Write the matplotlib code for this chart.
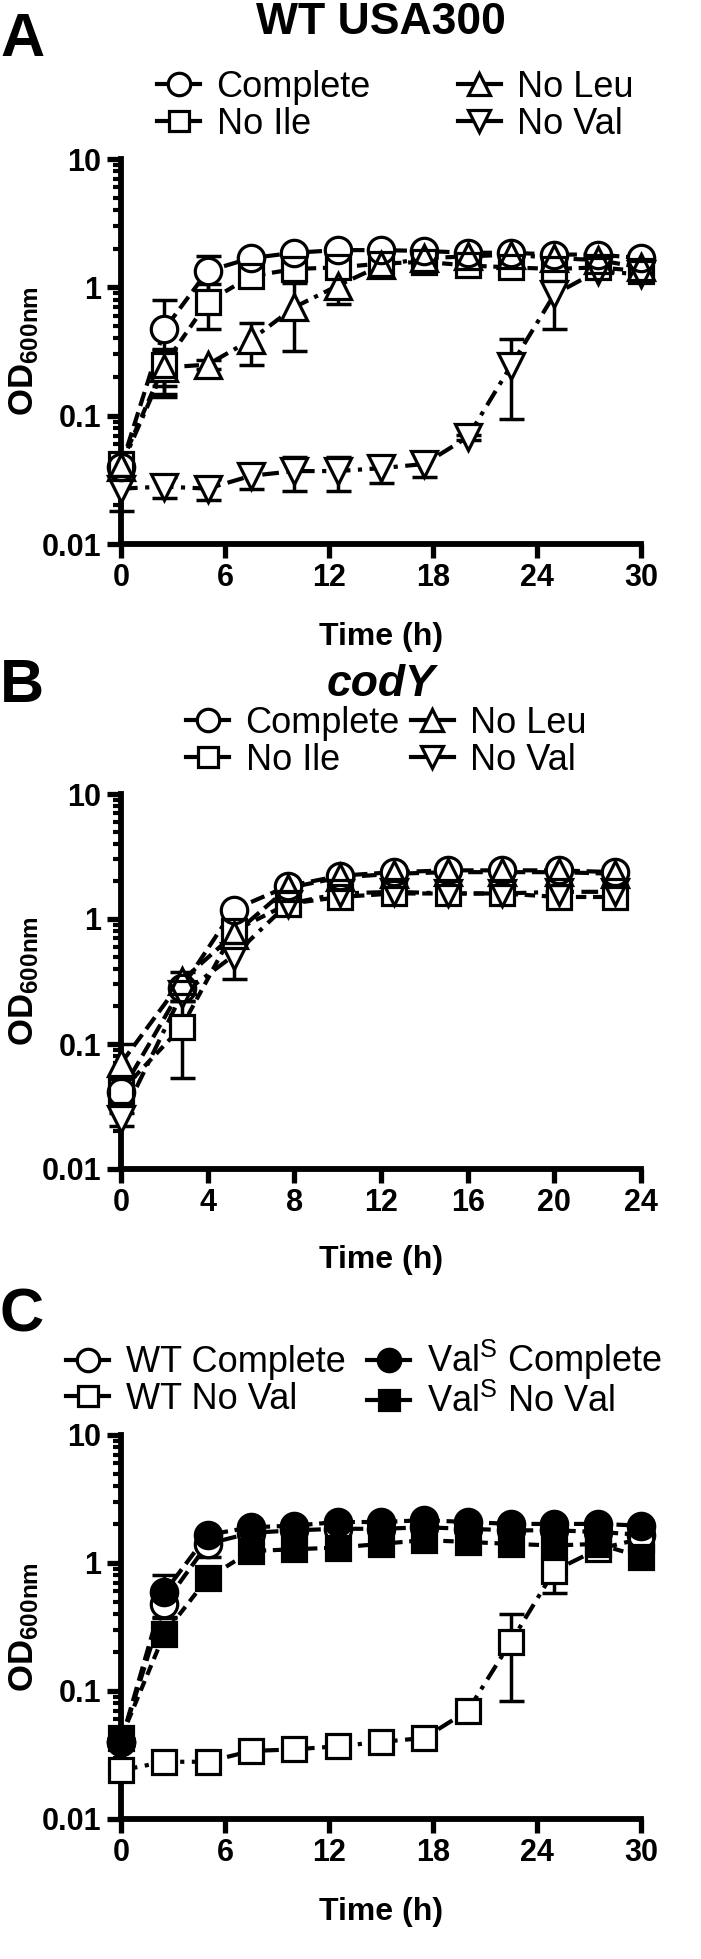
import matplotlib
matplotlib.use('Agg')
import matplotlib.pyplot as plt
from matplotlib.lines import Line2D
from matplotlib.ticker import LogLocator, NullFormatter

plt.rcParams['font.family'] = ['Liberation Sans', 'DejaVu Sans']
plt.rcParams['mathtext.fontset'] = 'custom'
plt.rcParams['mathtext.rm'] = 'Liberation Sans'
plt.rcParams['mathtext.bf'] = 'Liberation Sans:bold'
plt.rcParams['mathtext.it'] = 'Liberation Sans:italic'

# ---------------- data ----------------
tA = [0, 2.5, 5, 7.5, 10, 12.5, 15, 17.5, 20, 22.5, 25, 27.5, 30]
A_complete = [0.040, 0.47, 1.34, 1.69, 1.86, 1.95, 1.95, 1.92, 1.86, 1.86, 1.80, 1.80, 1.69]
A_complete_sd = [0.004, 0.33, 0.40, 0.10, 0.10, 0.10, 0.08, 0.08, 0.08, 0.08, 0.08, 0.08, 0.08]
A_noile = [0.042, 0.25, 0.77, 1.22, 1.39, 1.43, 1.53, 1.58, 1.48, 1.43, 1.39, 1.43, 1.34]
A_noile_sd = [0.004, 0.08, 0.30, 0.10, 0.10, 0.10, 0.08, 0.08, 0.08, 0.08, 0.08, 0.08, 0.08]
A_noleu = [0.040, 0.237, 0.25, 0.39, 0.70, 1.03, 1.48, 1.69, 1.74, 1.80, 1.69, 1.63, 1.43]
A_noleu_sd = [0.004, 0.09, 0.02, 0.14, 0.38, 0.29, 0.10, 0.08, 0.08, 0.08, 0.08, 0.08, 0.08]
A_noval = [0.027, 0.028, 0.027, 0.034, 0.037, 0.037, 0.039, 0.042, 0.068, 0.245, 0.88, 1.34, 1.26]
A_noval_sd = [0.009, 0.005, 0.005, 0.007, 0.011, 0.011, 0.009, 0.009, 0.003, 0.15, 0.41, 0.10, 0.10]

tB = [0, 2.8, 5.2, 7.7, 10.1, 12.6, 15.1, 17.6, 20.2, 22.8]
B_complete = [0.041, 0.28, 1.19, 1.83, 2.22, 2.37, 2.45, 2.45, 2.45, 2.37]
B_complete_sd = [0.004, 0.03, 0.05, 0.05, 0.05, 0.05, 0.05, 0.05, 0.05, 0.05]
B_noile = [0.042, 0.137, 0.80, 1.32, 1.50, 1.60, 1.60, 1.60, 1.50, 1.50]
B_noile_sd = [0.004, 0.084, 0.05, 0.05, 0.05, 0.05, 0.05, 0.05, 0.05, 0.05]
B_noleu = [0.070, 0.32, 0.75, 1.77, 2.15, 2.30, 2.37, 2.37, 2.37, 2.30]
B_noleu_sd = [0.030, 0.06, 0.05, 0.05, 0.05, 0.05, 0.05, 0.05, 0.05, 0.05]
B_noval = [0.025, 0.25, 0.51, 1.32, 1.60, 1.65, 1.60, 1.60, 1.65, 1.65]
B_noval_sd = [0.003, 0.03, 0.18, 0.05, 0.05, 0.05, 0.05, 0.05, 0.05, 0.05]

tC = [0, 2.5, 5, 7.5, 10, 12.5, 15, 17.5, 20, 22.5, 25, 27.5, 30]
C_wt_complete = [0.040, 0.48, 1.41, 1.72, 1.80, 1.85, 1.85, 1.90, 1.85, 1.80, 1.80, 1.75, 1.66]
C_wt_complete_sd = [0.004, 0.10, 0.30, 0.05, 0.05, 0.05, 0.05, 0.05, 0.05, 0.05, 0.05, 0.05, 0.05]
C_wt_noval = [0.024, 0.028, 0.028, 0.034, 0.035, 0.037, 0.040, 0.043, 0.070, 0.243, 0.87, 1.28, 1.55]
C_wt_noval_sd = [0.002, 0.002, 0.002, 0.002, 0.002, 0.002, 0.002, 0.002, 0.004, 0.16, 0.29, 0.05, 0.05]
C_vals_complete = [0.040, 0.59, 1.66, 1.90, 1.96, 2.09, 2.09, 2.16, 2.09, 2.02, 2.02, 2.02, 1.96]
C_vals_complete_sd = [0.004, 0.22, 0.10, 0.05, 0.05, 0.05, 0.05, 0.05, 0.05, 0.05, 0.05, 0.05, 0.05]
C_vals_noval = [0.043, 0.28, 0.76, 1.24, 1.28, 1.32, 1.41, 1.51, 1.46, 1.41, 1.37, 1.41, 1.12]
C_vals_noval_sd = [0.004, 0.03, 0.05, 0.05, 0.05, 0.05, 0.05, 0.05, 0.05, 0.05, 0.05, 0.05, 0.05]

labels_AB = ['Complete', 'No Ile', 'No Leu', 'No Val']
labels_C = ['WT Complete', 'WT No Val', r'Val$^{\mathrm{S}}$ Complete', r'Val$^{\mathrm{S}}$ No Val']
y_ticks = [0.01, 0.1, 1, 10]
y_ticklabels = ['0.01', '0.1', '1', '10']

# ---------------- layout ----------------
W, H = 701, 1959
fig = plt.figure(figsize=(W / 100, H / 100), dpi=100)


def fy(y):
    return 1 - y / H


def ax_at(left, top, right, bottom):
    return fig.add_axes([left / W, 1 - bottom / H, (right - left) / W, (bottom - top) / H])


LW = 3.0
MEW = 2.3
TICKFS = 22
LEGFS = 26


def style(ax, xmax, xstep, top, bottom, time_y):
    ax.set_yscale('log')
    ax.set_ylim(0.01, 10)
    ax.set_xlim(0, xmax)
    ax.set_xticks(list(range(0, xmax + 1, xstep)))
    ax.set_yticks(y_ticks)
    ax.set_yticklabels(y_ticklabels)
    ax.yaxis.set_minor_locator(LogLocator(base=10, subs=range(2, 10)))
    ax.yaxis.set_minor_formatter(NullFormatter())
    for s in ['top', 'right']:
        ax.spines[s].set_visible(False)
    for s in ['left', 'bottom']:
        ax.spines[s].set_linewidth(4.2)
        ax.spines[s].set_capstyle('projecting')
    ax.tick_params(which='major', length=10, width=3.8, labelsize=TICKFS, pad=4)
    ax.tick_params(which='minor', length=6, width=3)
    for lab in ax.get_xticklabels() + ax.get_yticklabels():
        lab.set_fontweight('bold')
    fig.text(24 / W, fy((top + bottom) / 2), r'$\mathbf{OD}_{\mathbf{600nm}}$', fontsize=25,
             rotation=90, ha='center', va='center')
    fig.text(381 / W, fy(time_y), 'Time (h)', fontsize=23, fontweight='bold',
             ha='center', va='center')


def draw(ax, series):
    # series: list of (t, y, sd, marker, ms, ls, fill)
    for t, y, sd, mk, ms, ls, fill in series:
        ax.errorbar(t, y, yerr=sd, fmt='none', ecolor='k', elinewidth=2.5,
                    capsize=9, capthick=2.5, zorder=2, clip_on=False)
        ax.plot(t, y, ls=ls, color='k', lw=LW, zorder=2, clip_on=False,
                dash_capstyle='butt')
    for t, y, sd, mk, ms, ls, fill in series:
        ax.plot(t, y, ls='none', marker=mk, ms=ms, mfc=fill, mec='none',
                zorder=3, clip_on=False)
    for t, y, sd, mk, ms, ls, fill in series:
        ax.plot(t, y, ls='none', marker=mk, ms=ms, mfc='none', mec='k',
                mew=MEW, zorder=4, clip_on=False)


def handle(mk, ms, fill):
    return Line2D([], [], color='k', lw=LW, marker=mk, ms=ms * 0.85, mfc=fill,
                  mec='k', mew=MEW)


ls_c = (0, (3.5, 1.6))
ls_i = (0, (2.5, 1.6))
ls_l = (0, (3.5, 1.6, 1.0, 1.6))
ls_v = (0, (4.0, 1.8, 1.0, 1.8))

LEFT, RIGHT = 121, 641


def panel_letter(letter, baseline_y):
    fig.text(0 / W, fy(baseline_y), letter, fontsize=44, fontweight='bold',
             va='baseline', ha='left')


# ---------------- Panel A ----------------
A_top, A_bot = 159, 544
axA = ax_at(LEFT, A_top, RIGHT, A_bot)
style(axA, 30, 6, A_top, A_bot, 637)
draw(axA, [
    (tA, A_noval, A_noval_sd, 'v', 19, ls_v, 'white'),
    (tA, A_noleu, A_noleu_sd, '^', 19, ls_l, 'white'),
    (tA, A_noile, A_noile_sd, 's', 17, ls_i, 'white'),
    (tA, A_complete, A_complete_sd, 'o', 19, ls_c, 'white'),
])
panel_letter('A', 56)
fig.text(381 / W, fy(22), 'WT USA300', fontsize=32, fontweight='bold', va='center', ha='center')
hA = [handle('o', 19, 'white'), handle('s', 17, 'white'),
      handle('^', 19, 'white'), handle('v', 19, 'white')]
axA.legend(hA, labels_AB, ncol=2, loc='upper left', bbox_to_anchor=(157 / W, fy(70)),
           bbox_transform=fig.transFigure, frameon=False, fontsize=LEGFS,
           handlelength=1.2, handletextpad=0.45, columnspacing=2.4,
           labelspacing=0.05, borderaxespad=0, borderpad=0)

# ---------------- Panel B ----------------
B_top, B_bot = 794, 1169
axB = ax_at(LEFT, B_top, RIGHT, B_bot)
style(axB, 24, 4, B_top, B_bot, 1260)
draw(axB, [
    (tB, B_noval, B_noval_sd, 'v', 19, ls_v, 'white'),
    (tB, B_noleu, B_noleu_sd, '^', 19, ls_c, 'white'),
    (tB, B_noile, B_noile_sd, 's', 17, ls_i, 'white'),
    (tB, B_complete, B_complete_sd, 'o', 19, ls_c, 'white'),
])
panel_letter('B', 702)
fig.text(381 / W, fy(684), 'codY', fontsize=32, fontweight='bold', fontstyle='italic',
         va='center', ha='center')
axB.legend(hA, labels_AB, ncol=2, loc='upper left', bbox_to_anchor=(186 / W, fy(706)),
           bbox_transform=fig.transFigure, frameon=False, fontsize=LEGFS,
           handlelength=1.2, handletextpad=0.45, columnspacing=0.3,
           labelspacing=0.05, borderaxespad=0, borderpad=0)

# ---------------- Panel C ----------------
C_top, C_bot = 1435, 1819
axC = ax_at(LEFT, C_top, RIGHT, C_bot)
style(axC, 30, 6, C_top, C_bot, 1912)
draw(axC, [
    (tC, C_wt_noval, C_wt_noval_sd, 's', 17, ls_v, 'white'),
    (tC, C_wt_complete, C_wt_complete_sd, 'o', 19, ls_c, 'white'),
    (tC, C_vals_noval, C_vals_noval_sd, 's', 17, ls_i, 'black'),
    (tC, C_vals_complete, C_vals_complete_sd, 'o', 19, ls_c, 'black'),
])
panel_letter('C', 1332)
hC = [handle('o', 19, 'white'), handle('s', 17, 'white'),
      handle('o', 19, 'black'), handle('s', 17, 'black')]
axC.legend(hC, labels_C, ncol=2, loc='upper left', bbox_to_anchor=(66 / W, fy(1338)),
           bbox_transform=fig.transFigure, frameon=False, fontsize=LEGFS,
           handlelength=1.2, handletextpad=0.45, columnspacing=0.6,
           labelspacing=0.05, borderaxespad=0, borderpad=0)

fig.savefig('out.png', dpi=100)
